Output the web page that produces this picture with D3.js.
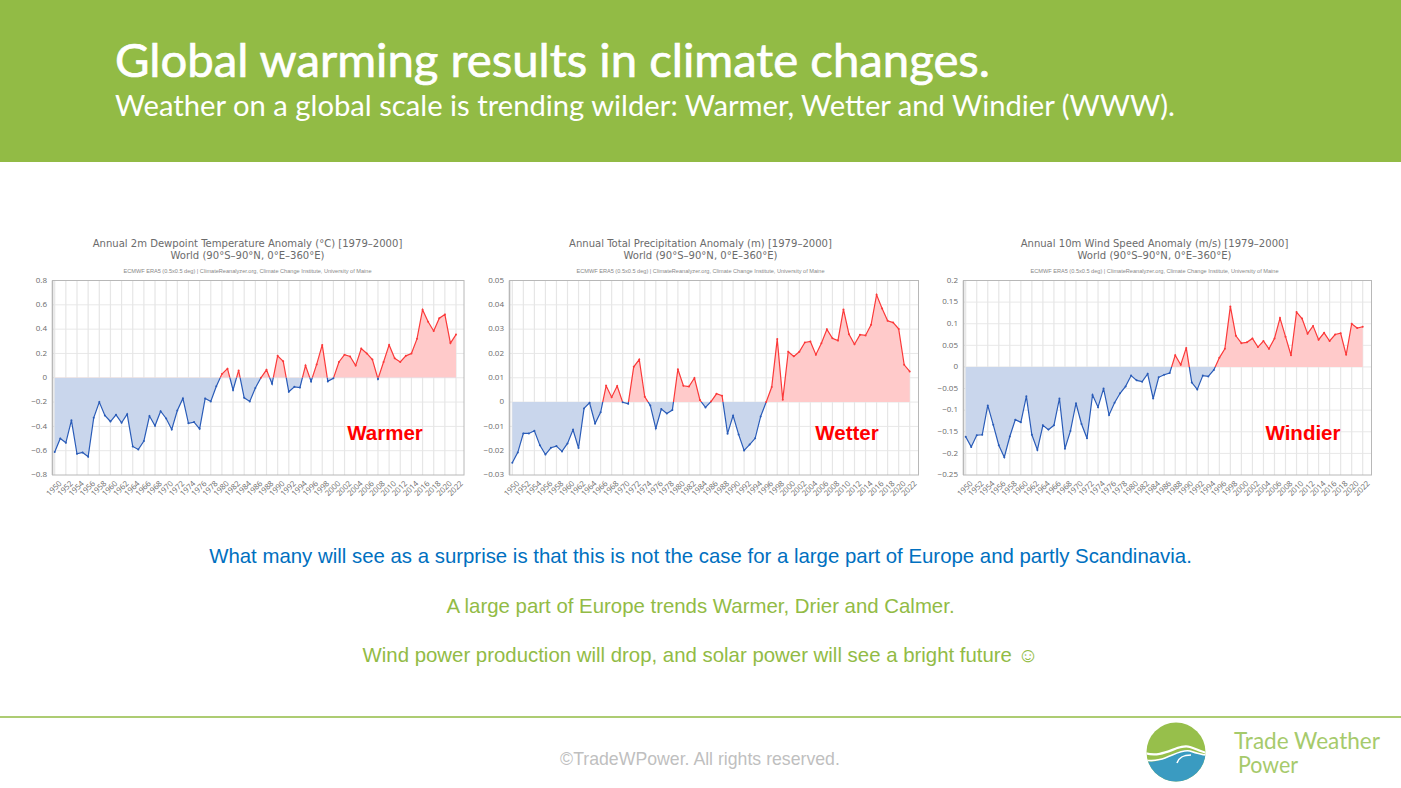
<!DOCTYPE html>
<html lang="en">
<head>
<meta charset="utf-8">
<title>Global warming results in climate changes</title>
<script src="https://cdn.jsdelivr.net/npm/d3@7/dist/d3.min.js"></script>
<style>
  html, body { margin: 0; padding: 0; background: #fff; overflow: hidden; }
  svg { display: block; }
  text { font-family: "Liberation Sans", Arial, sans-serif; }
</style>
</head>
<body>
<svg id="slide" width="1401" height="788"></svg>
<script>
// Annual anomalies, 1950 to 2022
const years = d3.range(1950, 2023);

const dewpointAnomaly = [
  -0.61, -0.50, -0.535, -0.35, -0.625, -0.615, -0.65, -0.33, -0.20, -0.31,
  -0.36, -0.305, -0.37, -0.30, -0.565, -0.59, -0.52, -0.315, -0.395, -0.275,
  -0.335, -0.425, -0.27, -0.17, -0.375, -0.365, -0.42, -0.17, -0.195, -0.07,
  0.03, 0.075, -0.10, 0.06, -0.165, -0.195, -0.085, 0.0, 0.065, -0.05,
  0.18, 0.135, -0.115, -0.075, -0.08, 0.10, -0.03, 0.11, 0.27, -0.03,
  -0.005, 0.13, 0.19, 0.175, 0.10, 0.24, 0.20, 0.15, -0.01, 0.13,
  0.27, 0.16, 0.13, 0.18, 0.20, 0.32, 0.56, 0.46, 0.385, 0.49,
  0.52, 0.285, 0.355
];

const precipitationAnomaly = [
  -0.025, -0.0207, -0.0129, -0.0129, -0.0118, -0.0178, -0.0216, -0.0188, -0.0181, -0.0203,
  -0.017, -0.0114, -0.0189, -0.0026, -0.0003, -0.0088, -0.0042, 0.0067, 0.002, 0.0066,
  -0.0001, -0.0007, 0.0145, 0.0175, 0.0022, -0.0014, -0.0108, -0.0029, -0.0047, -0.0033,
  0.0135, 0.0067, 0.0064, 0.0099, 0.0008, -0.0022, 0.0002, 0.0034, 0.0026, -0.013,
  -0.0056, -0.0133, -0.0199, -0.0175, -0.0149, -0.0059, 0.0, 0.0062, 0.0259, 0.001,
  0.0207, 0.0188, 0.0207, 0.0245, 0.0249, 0.0195, 0.0242, 0.0299, 0.0262, 0.0253,
  0.0381, 0.0279, 0.0238, 0.0277, 0.0274, 0.0318, 0.0441, 0.0385, 0.0334, 0.0327,
  0.0301, 0.0153, 0.0126
];

const windSpeedAnomaly = [
  -0.1615, -0.185, -0.158, -0.157, -0.089, -0.134, -0.181, -0.209, -0.161, -0.122,
  -0.128, -0.068, -0.157, -0.192, -0.135, -0.145, -0.135, -0.073, -0.189, -0.148,
  -0.084, -0.132, -0.165, -0.065, -0.093, -0.05, -0.111, -0.083, -0.061, -0.045,
  -0.02, -0.031, -0.034, -0.016, -0.073, -0.024, -0.018, -0.014, 0.027, 0.005,
  0.044, -0.036, -0.052, -0.02, -0.022, -0.007, 0.021, 0.042, 0.14, 0.072,
  0.055, 0.057, 0.066, 0.046, 0.06, 0.042, 0.066, 0.113, 0.07, 0.027,
  0.127, 0.112, 0.077, 0.095, 0.063, 0.079, 0.06, 0.075, 0.078, 0.028,
  0.1, 0.09, 0.093
];

const dewpointTicks = [-0.8, -0.6, -0.4, -0.2, 0, 0.2, 0.4, 0.6, 0.8];
const precipitationTicks = [-0.03, -0.02, -0.01, 0, 0.01, 0.02, 0.03, 0.04, 0.05];
const windSpeedTicks = [-0.25, -0.2, -0.15, -0.1, -0.05, 0, 0.05, 0.1, 0.15, 0.2];
const yearTicks = d3.range(1950, 2023, 2);

const chartTitles = [
  "Annual 2m Dewpoint Temperature Anomaly (°C) [1979–2000]",
  "Annual Total Precipitation Anomaly (m) [1979–2000]",
  "Annual 10m Wind Speed Anomaly (m/s) [1979–2000]"
];
const chartSubtitle = "World (90°S–90°N, 0°E–360°E)";
const chartSource = "ECMWF ERA5 (0.5x0.5 deg) | ClimateReanalyzer.org, Climate Change Institute, University of Maine";
const chartTags = ["Warmer", "Wetter", "Windier"];

const headline = "Global warming results in climate changes.";
const subheadline = "Weather on a global scale is trending wilder: Warmer, Wetter and Windier (WWW).";
const messages = [
  "What many will see as a surprise is that this is not the case for a large part of Europe and partly Scandinavia.",
  "A large part of Europe trends Warmer, Drier and Calmer.",
  "Wind power production will drop, and solar power will see a bright future ☺"
];
const copyright = "©TradeWPower. All rights reserved.";
const brandLines = ["Trade Weather", "Power"];

const GREEN = "#92bb45";
const BLUE_LINE = "#2a5cb8", RED_LINE = "#fb3a3a";
const BLUE_FILL = "#c9d6ec", RED_FILL = "#ffcaca";
const GREY_TEXT = "#6b6b6b";

const svg = d3.select("#slide");

// Header band
svg.append("rect").attr("width", 1401).attr("height", 162).attr("fill", GREEN);
svg.append("text").attr("x", 115).attr("y", 77)
  .attr("textLength", 875).attr("lengthAdjust", "spacingAndGlyphs")
  .style("font-family", "Lato, sans-serif").style("font-size", "47px")
  .attr("fill", "#fff").attr("stroke", "#fff").attr("stroke-width", 0.7).text(headline);
svg.append("text").attr("x", 115).attr("y", 116)
  .attr("textLength", 1060).attr("lengthAdjust", "spacingAndGlyphs")
  .style("font-family", "Lato, sans-serif").style("font-size", "28px")
  .attr("fill", "#fff").text(subheadline);

// One anomaly panel: frame, grid, two-tone area and line split at zero
function drawPanel(cfg, i) {
  const g = svg.append("g");
  const y = d3.scaleLinear().domain(cfg.yDomain).range([475, 280.5]);
  const x = d3.scaleLinear().domain([1950, 2022]).range(cfg.xRange);
  const values = cfg.values;

  // Grid
  g.append("g").selectAll("line").data(cfg.ticks.slice(1, -1)).join("line")
    .attr("x1", cfg.frame[0]).attr("x2", cfg.frame[1])
    .attr("y1", d => y(d)).attr("y2", d => y(d))
    .attr("stroke", "#e8e8e8");
  g.append("g").selectAll("line").data(yearTicks).join("line")
    .attr("x1", d => x(d)).attr("x2", d => x(d))
    .attr("y1", 280.5).attr("y2", 475)
    .attr("stroke", "#e6e6e6").attr("stroke-width", 1.2);

  // Clip regions on either side of the zero line
  const upId = `above-${i}`, downId = `below-${i}`;
  const defs = g.append("defs");
  defs.append("clipPath").attr("id", upId).append("rect")
    .attr("x", cfg.frame[0]).attr("width", cfg.frame[1] - cfg.frame[0])
    .attr("y", 280.5).attr("height", y(0) - 280.5);
  defs.append("clipPath").attr("id", downId).append("rect")
    .attr("x", cfg.frame[0]).attr("width", cfg.frame[1] - cfg.frame[0])
    .attr("y", y(0)).attr("height", 475 - y(0));

  const area = d3.area().x((d, k) => x(years[k])).y0(y(0)).y1(d => y(d));
  const line = d3.line().x((d, k) => x(years[k])).y(d => y(d));

  [[upId, RED_FILL, RED_LINE], [downId, BLUE_FILL, BLUE_LINE]].forEach(([id, fill, stroke]) => {
    const part = g.append("g").attr("clip-path", `url(#${id})`);
    part.append("path").attr("d", area(values)).attr("fill", fill);
    part.append("path").attr("d", line(values)).attr("fill", "none")
      .attr("stroke", stroke).attr("stroke-width", 1.2);
  });

  // Year markers
  g.append("g").selectAll("circle").data(values).join("circle")
    .attr("cx", (d, k) => x(years[k])).attr("cy", d => y(d)).attr("r", 1)
    .attr("fill", d => d >= 0 ? RED_LINE : BLUE_LINE);

  // Frame, heavier along the value axis
  g.append("rect")
    .attr("x", cfg.frame[0]).attr("y", 280.5)
    .attr("width", cfg.frame[1] - cfg.frame[0]).attr("height", 194.5)
    .attr("fill", "none").attr("stroke", "#b8b8b8").attr("stroke-width", 1);
  g.append("line")
    .attr("x1", cfg.frame[0]).attr("x2", cfg.frame[0]).attr("y1", 280.5).attr("y2", 475)
    .attr("stroke", "#b8b8b8").attr("stroke-width", 1.6);

  // Axes
  const yAxis = d3.axisLeft(y).tickValues(cfg.ticks).tickSize(0).tickPadding(5.5)
    .tickFormat(d3.format("~g"));
  const yG = g.append("g").attr("transform", `translate(${cfg.frame[0]},-0.8)`).call(yAxis);
  yG.select(".domain").remove();
  yG.selectAll("text").style("font-family", "'Open Sans', sans-serif")
    .style("font-size", "8px").attr("fill", GREY_TEXT);

  const xAxis = d3.axisBottom(x).tickValues(yearTicks).tickSize(0).tickFormat(d3.format("d"));
  const xG = g.append("g").attr("transform", "translate(0,475)").call(xAxis);
  xG.select(".domain").remove();
  xG.selectAll("text")
    .style("font-family", "'Open Sans', sans-serif").style("font-size", "7.8px")
    .attr("fill", GREY_TEXT).attr("text-anchor", "end")
    .attr("dy", 0).attr("y", 0)
    .attr("transform", "translate(7,9) rotate(-45)");

  // Titles
  const titles = g.append("g").attr("text-anchor", "middle").attr("fill", GREY_TEXT);
  titles.append("text").attr("x", cfg.titleX).attr("y", 246.5)
    .style("font-family", "'DejaVu Sans', sans-serif").style("font-size", "10.05px")
    .text(chartTitles[i]);
  titles.append("text").attr("x", cfg.titleX).attr("y", 258.5)
    .style("font-family", "'DejaVu Sans', sans-serif").style("font-size", "10.05px")
    .text(chartSubtitle);
  titles.append("text").attr("x", cfg.titleX).attr("y", 272.5)
    .style("font-size", "5.6px").attr("fill", "#888").text(chartSource);

  g.append("text").attr("x", cfg.tagX).attr("y", 440).attr("text-anchor", "middle")
    .style("font-size", "20.5px").style("font-weight", "bold").attr("fill", "#ff0000")
    .text(chartTags[i]);
}

[
  { values: dewpointAnomaly, ticks: dewpointTicks, yDomain: [-0.8, 0.8],
    frame: [52.5, 464], xRange: [54.7, 456], tagX: 385, titleX: 247.5 },
  { values: precipitationAnomaly, ticks: precipitationTicks, yDomain: [-0.03, 0.05],
    frame: [509.5, 918.5], xRange: [512.3, 909.7], tagX: 847, titleX: 700.5 },
  { values: windSpeedAnomaly, ticks: windSpeedTicks, yDomain: [-0.25, 0.2],
    frame: [963.5, 1371.5], xRange: [965.7, 1362.7], tagX: 1303, titleX: 1154.5 }
].forEach(drawPanel);

// Takeaway lines
const messageColors = ["#0070c0", GREEN, GREEN];
svg.append("g").attr("text-anchor", "middle").selectAll("text").data(messages).join("text")
  .attr("x", 700.5).attr("y", (d, i) => 563 + i * 49.5)
  .style("font-size", "20.4px").attr("fill", (d, i) => messageColors[i]).text(d => d);

// Footer
svg.append("line").attr("x1", 0).attr("x2", 1401).attr("y1", 717).attr("y2", 717)
  .attr("stroke", GREEN).attr("stroke-width", 1.5);
svg.append("text").attr("x", 700).attr("y", 765).attr("text-anchor", "middle")
  .style("font-size", "17.7px").attr("fill", "#bfbfbf").text(copyright);

// Brand mark: globe with a wave across it
const logo = svg.append("g").attr("transform", "translate(1176,752)");
logo.append("clipPath").attr("id", "globe").append("circle").attr("r", 29.5);
const globe = logo.append("g").attr("clip-path", "url(#globe)");
globe.append("rect").attr("x", -30).attr("y", -30).attr("width", 60).attr("height", 60).attr("fill", "#97bf4b");
globe.append("path").attr("d", "M-31,9 C-12,13 2,-6 14,-1 C20,1 26,3 31,3 L31,31 L-31,31 Z").attr("fill", "#3a9bc1");
globe.append("path").attr("d", "M-31,1 C-12,7 2,-9 14,-5 C20,-3 26,0 31,1").attr("fill", "none").attr("stroke", "#fff").attr("stroke-width", 2.2);
globe.append("path").attr("d", "M-31,8 C-12,12 2,-4 14,-1 C20,1 26,3 31,3").attr("fill", "none").attr("stroke", "#fff").attr("stroke-width", 1.6);
globe.append("path").attr("d", "M1,11 C3,5 7,3 15,3").attr("fill", "none").attr("stroke", "#fff").attr("stroke-width", 1.6);

svg.append("text").attr("x", 1234).attr("y", 748.5)
  .attr("textLength", 146).attr("lengthAdjust", "spacingAndGlyphs")
  .style("font-family", "Lato, sans-serif").style("font-size", "22.5px")
  .attr("fill", "#a6ca6b").text(brandLines[0]);
svg.append("text").attr("x", 1238).attr("y", 773)
  .attr("textLength", 60).attr("lengthAdjust", "spacingAndGlyphs")
  .style("font-family", "Lato, sans-serif").style("font-size", "22.5px")
  .attr("fill", "#a6ca6b").text(brandLines[1]);
</script>
</body>
</html>
